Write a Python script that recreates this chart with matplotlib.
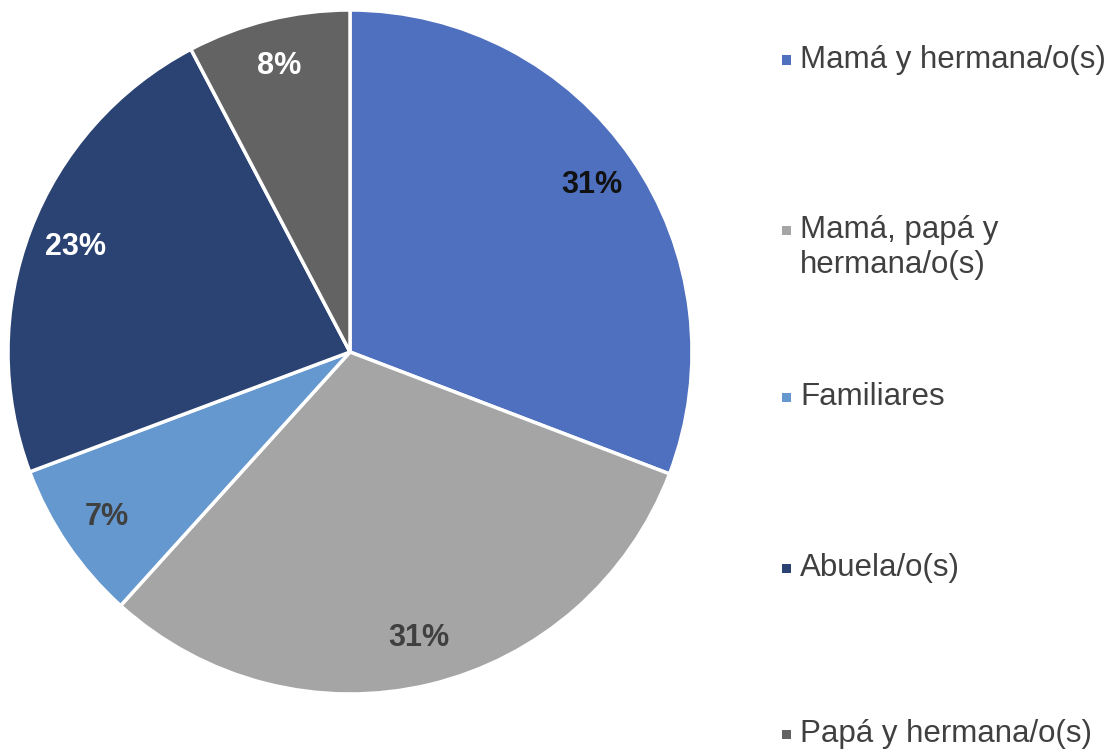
import matplotlib
matplotlib.use("Agg")
import matplotlib.pyplot as plt
from matplotlib.patches import Rectangle
import numpy as np

plt.rcParams['font.family'] = ['Liberation Sans', 'DejaVu Sans']

categories = ["Mamá y hermana/o(s)", "Mamá, papá y\nhermana/o(s)", "Familiares",
              "Abuela/o(s)", "Papá y hermana/o(s)"]
values = [30.8, 30.9, 7.6, 23.0, 7.7]
pct_labels = ["31%", "31%", "7%", "23%", "8%"]
colors = ["#4E70BE", "#A5A5A5", "#6598CF", "#2B4373", "#636363"]
label_colors = ["#111111", "#404040", "#404040", "#FFFFFF", "#FFFFFF"]

W, H = 1115, 750
fig = plt.figure(figsize=(W / 100, H / 100), dpi=100)
cx, cy, r = 350, 352, 342
ax = fig.add_axes([(cx - r) / W, (H - cy - r) / H, 2 * r / W, 2 * r / H])
wedges, _ = ax.pie(values, colors=colors, startangle=90, counterclock=False,
                   radius=1, wedgeprops=dict(edgecolor="white", linewidth=2.5))
ax.set_xlim(-1, 1)
ax.set_ylim(-1, 1)
ax.set_aspect("equal")
ax.axis("off")

total = sum(values)
ang = 90.0
for v, lab, lc in zip(values, pct_labels, label_colors):
    span = v / total * 360
    mid = np.deg2rad(ang - span / 2)
    ang -= span
    d = 0.86
    ax.text(d * np.cos(mid), d * np.sin(mid), lab, ha="center", va="center",
            fontsize=22, fontweight="bold", color=lc)

# legend drawn manually
ys = [60, 230, 397, 568, 734]
for cat, col, y in zip(categories, colors, ys):
    fig.patches.append(Rectangle((782 / W, (H - y - 4.5) / H), 9 / W, 9 / H,
                                 transform=fig.transFigure, facecolor=col,
                                 edgecolor="none"))
    ty = y + 17.5 if "\n" in cat else y
    fig.text(800 / W, (H - ty) / H, cat, ha="left", va="center",
             fontsize=22.5, color="#404040", linespacing=1.2)

fig.savefig("out.png", dpi=100)
